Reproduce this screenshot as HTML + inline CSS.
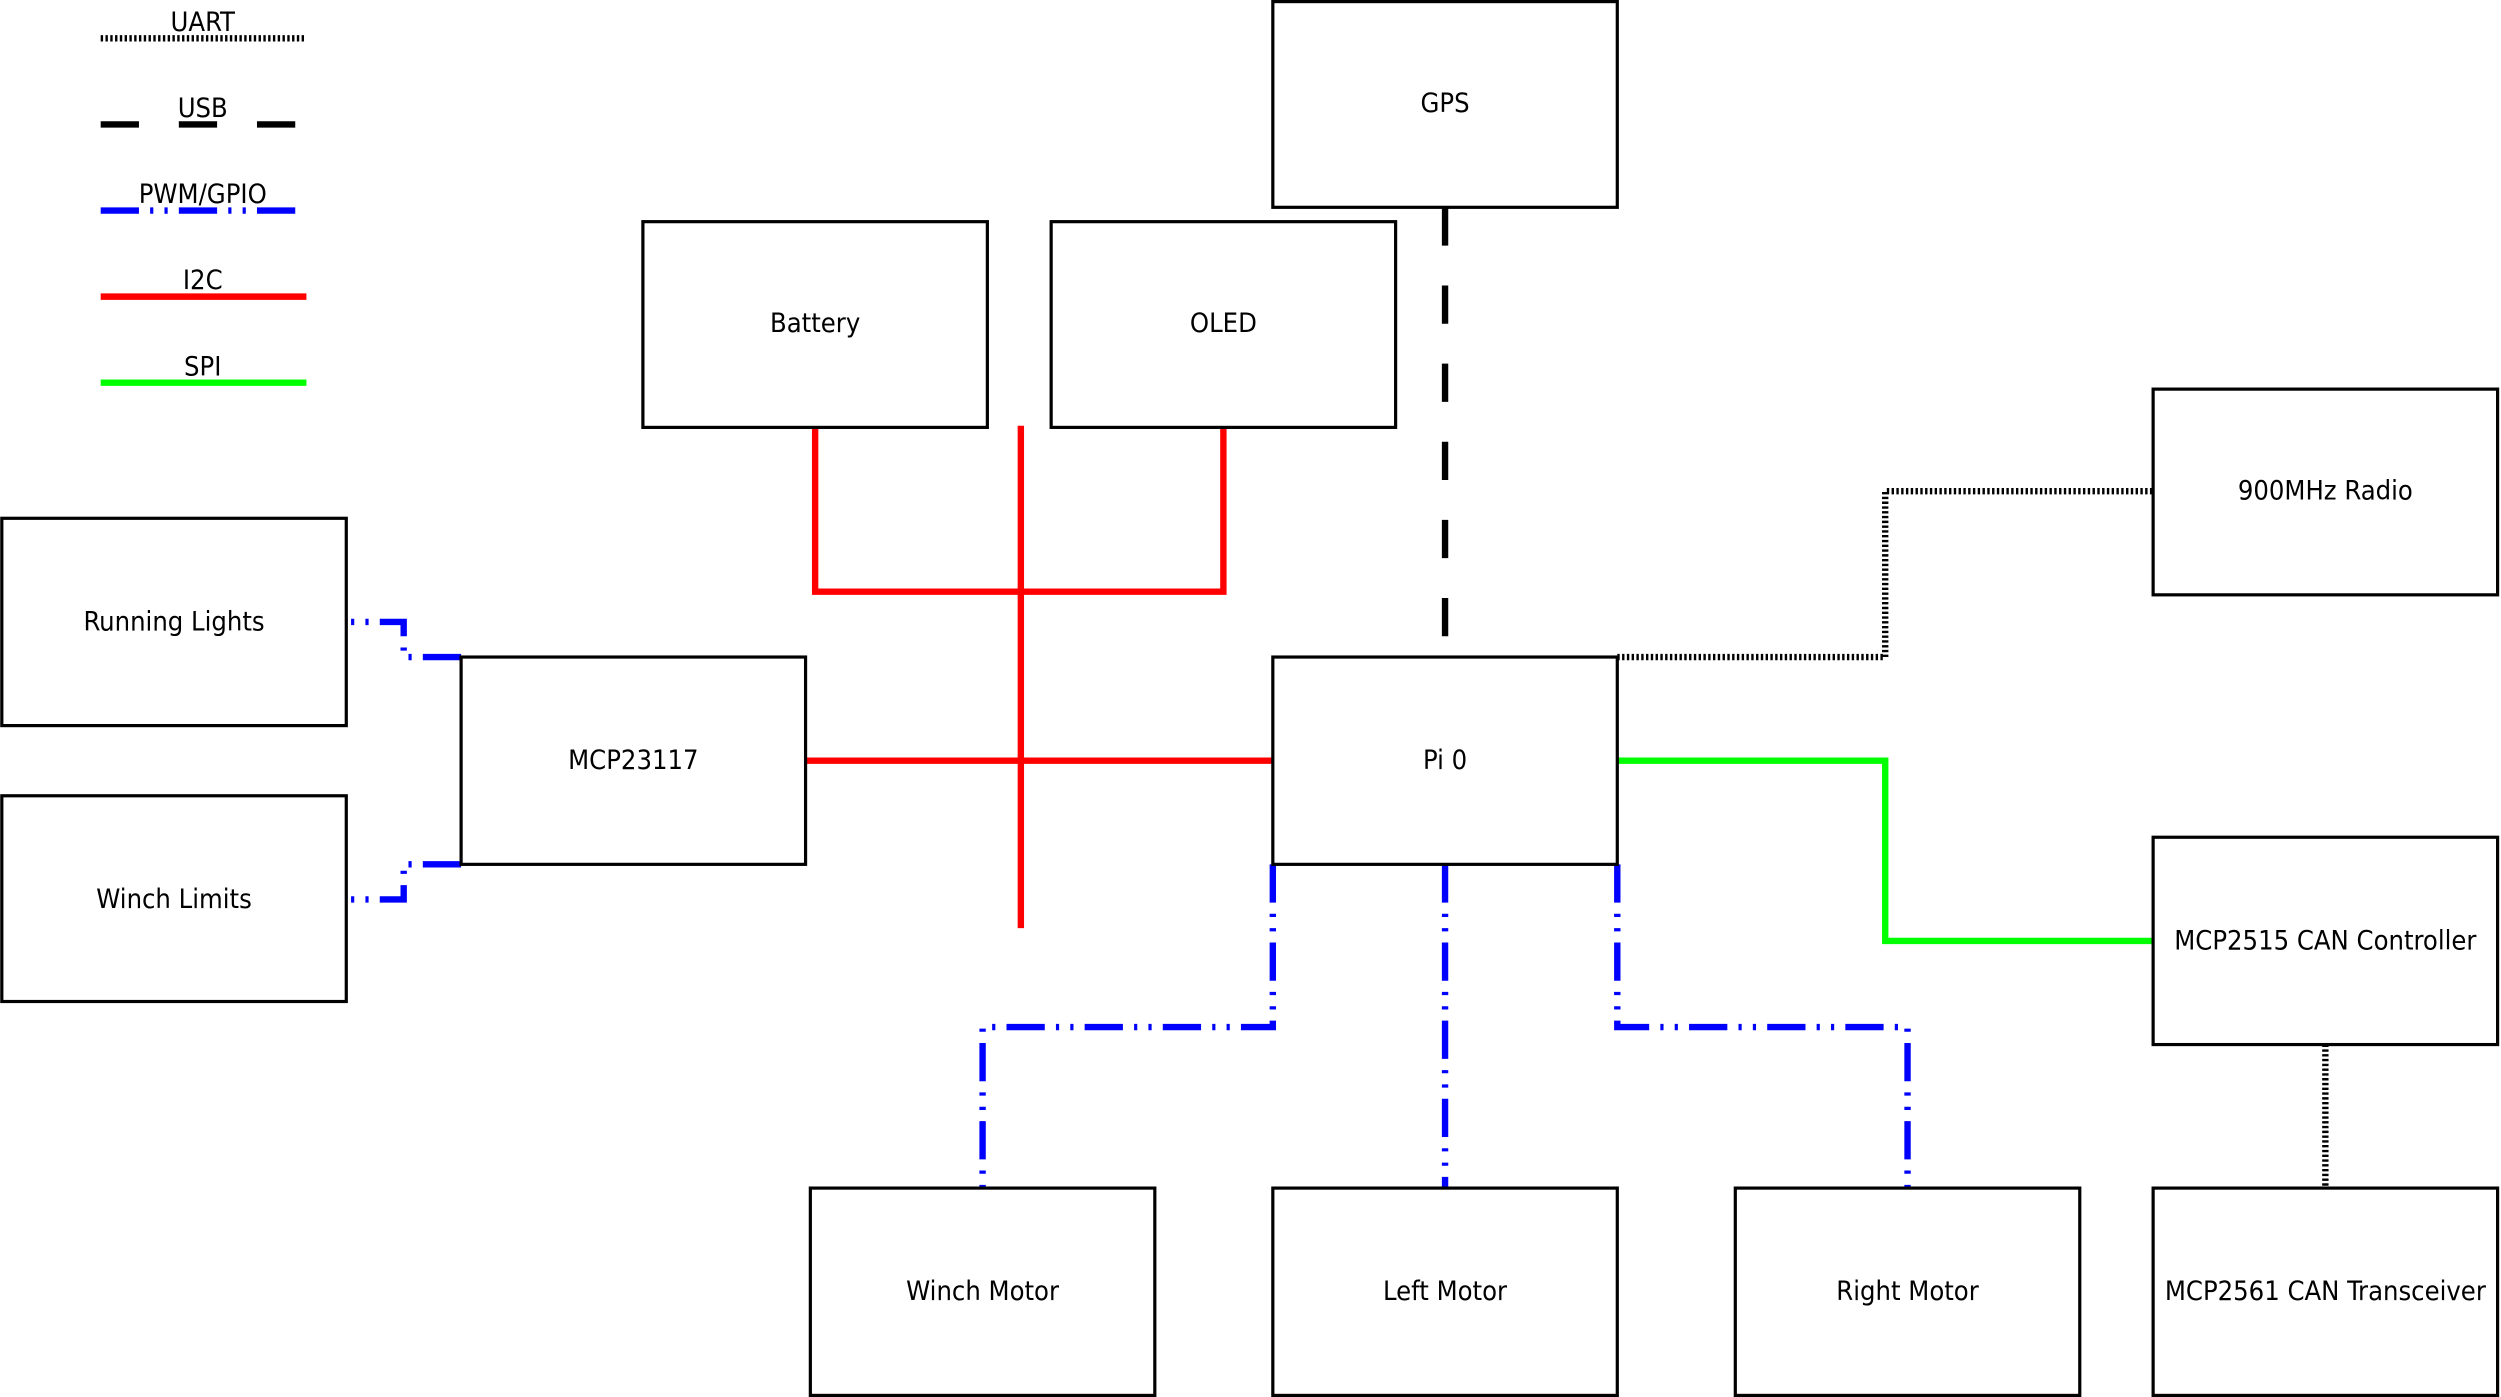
<!DOCTYPE html>
<html><head><meta charset="utf-8"><style>
html,body{margin:0;padding:0;background:#fff;}
svg{display:block;}
text{font-family:"DejaVu Sans Condensed","DejaVu Sans","Liberation Sans",sans-serif;font-size:17px;fill:#000;text-anchor:middle;dominant-baseline:central;}
</style></head><body>
<svg width="2501" height="1397" viewBox="0 0 1568 876" xmlns="http://www.w3.org/2000/svg">
<rect width="1568" height="876" fill="#fff"/>
<g fill="none">
<line x1="63" y1="24" x2="192" y2="24" stroke="#000" stroke-width="4" stroke-dasharray="1.5,1.5"/>
<line x1="63" y1="78" x2="187" y2="78" stroke="#000" stroke-width="4" stroke-dasharray="24,25"/>
<line x1="63" y1="132" x2="187" y2="132" stroke="#00f" stroke-width="4" stroke-dasharray="24,7,2,7,2,7"/>
<line x1="63" y1="186" x2="192" y2="186" stroke="#f00" stroke-width="4"/>
<line x1="63" y1="240" x2="192" y2="240" stroke="#0f0" stroke-width="4"/>
<polyline points="511,268 511,371 767,371 767,268" stroke="#f00" stroke-width="4"/>
<line x1="640" y1="267" x2="640" y2="582" stroke="#f00" stroke-width="4"/>
<line x1="505" y1="477" x2="798" y2="477" stroke="#f00" stroke-width="4"/>
<line x1="906" y1="130" x2="906" y2="412" stroke="#000" stroke-width="4" stroke-dasharray="24,25"/>
<polyline points="1014,412 1182,412 1182,308 1350,308" stroke="#000" stroke-width="4" stroke-dasharray="1.5,1.5"/>
<line x1="1458" y1="655" x2="1458" y2="745" stroke="#000" stroke-width="4" stroke-dasharray="1.5,1.5"/>
<polyline points="1014,477 1182,477 1182,590 1350,590" stroke="#0f0" stroke-width="4"/>
<g stroke="#00f" stroke-width="4" stroke-dasharray="24,7,2,7,2,7">
<polyline points="798,542 798,644 616,644 616,745"/>
<line x1="906" y1="542" x2="906" y2="745"/>
<polyline points="1014,542 1014,644 1196,644 1196,745"/>
<polyline points="289,412 253,412 253,390 217,390"/>
<polyline points="289,542 253,542 253,564 217,564"/>
</g>
<g stroke="#000" stroke-width="2" fill="#fff">
<rect x="798" y="1" width="216" height="129"/>
<rect x="403" y="139" width="216" height="129"/>
<rect x="659" y="139" width="216" height="129"/>
<rect x="1350" y="244" width="216" height="129"/>
<rect x="1" y="325" width="216" height="130"/>
<rect x="1" y="499" width="216" height="129"/>
<rect x="289" y="412" width="216" height="130"/>
<rect x="798" y="412" width="216" height="130"/>
<rect x="1350" y="525" width="216" height="130"/>
<rect x="508" y="745" width="216" height="130"/>
<rect x="798" y="745" width="216" height="130"/>
<rect x="1088" y="745" width="216" height="130"/>
<rect x="1350" y="745" width="216" height="130"/>
</g>
</g>
<text x="127" y="14">UART</text>
<text x="127" y="68">USB</text>
<text x="127" y="122">PWM/GPIO</text>
<text x="127" y="176">I2C</text>
<text x="127" y="230">SPI</text>
<text x="906" y="65">GPS</text>
<text x="511" y="203">Battery</text>
<text x="767" y="203">OLED</text>
<text x="1458" y="308">900MHz Radio</text>
<text x="109" y="390">Running Lights</text>
<text x="109" y="564">Winch Limits</text>
<text x="397" y="477">MCP23117</text>
<text x="906" y="477">Pi 0</text>
<text x="1458" y="590">MCP2515 CAN Controller</text>
<text x="616" y="810">Winch Motor</text>
<text x="906" y="810">Left Motor</text>
<text x="1196" y="810">Right Motor</text>
<text x="1458" y="810">MCP2561 CAN Transceiver</text>
</svg>
</body></html>
